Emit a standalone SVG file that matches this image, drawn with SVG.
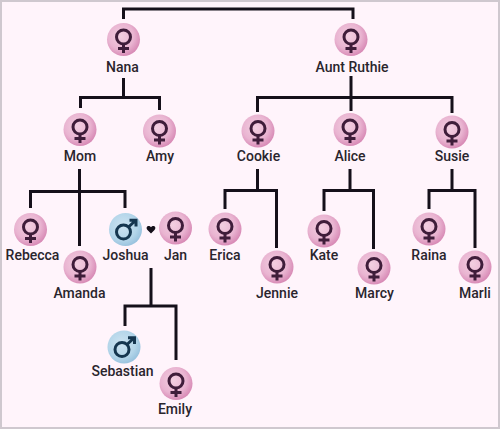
<svg xmlns="http://www.w3.org/2000/svg" width="500" height="429" viewBox="0 0 500 429">
<style>
text{font-family:Roboto,"Liberation Sans",sans-serif;font-size:14px;font-weight:500;fill:#2a252d;text-anchor:middle}
.c path{fill:none;stroke:#15101a;stroke-width:3}
.g{fill:none;stroke-width:3}
</style>
<defs>
<radialGradient id="pk" cx="0.42" cy="0.4" r="0.65"><stop offset="0" stop-color="#f3cfe1"/><stop offset="0.6" stop-color="#e9b4d1"/><stop offset="1" stop-color="#d583b1"/></radialGradient>
<radialGradient id="bl" cx="0.42" cy="0.4" r="0.65"><stop offset="0" stop-color="#cde3f1"/><stop offset="0.65" stop-color="#b3d5e9"/><stop offset="1" stop-color="#94bfdc"/></radialGradient>
<g id="f"><circle r="16.5" fill="url(#pk)"/><g stroke="#3f1d3a" class="g"><circle cy="-2.500" r="7"/><path d="M0 4.500V13.500M-5.500 9H5.500"/></g></g>
<g id="m"><circle r="16.500" fill="url(#bl)"/><g stroke="#15364f" class="g"><circle cx="-2" cy="2.500" r="7"/><path d="M3 -2.500L10 -9M4 -9.300H10.500V-3"/></g></g>
</defs>
<rect x="1" y="1" width="498" height="427" fill="#fff4fb" stroke="#cfc8cf" stroke-width="2"/>
<g class="c" id="connectors">
<path d="M123.500 19V9H353V19"/>
<path d="M123.500 78V97.500H80.500V108M123.500 97.500H159.500V110"/>
<path d="M351 76V97.500H257.500V112M351 97.500V111M351 97.500H452V113"/>
<path d="M79.500 169V191.500H30.500V208M79.500 191.500V246M79.500 191.500H125V208"/>
<path d="M257.500 169V190.500H225V209M257.500 190.500H276.500V248"/>
<path d="M350 169V190.500H324V211M350 190.500H373.500V249"/>
<path d="M452 169V190.500H429V209M452 190.500H475V248"/>
<path d="M151 268V306H125V326M151 306H176V360"/>
</g>
<g id="nana"><use href="#f" x="123.500" y="39.500"/><text x="122.500" y="71.500">Nana</text></g>
<g id="aunt-ruthie"><use href="#f" x="351" y="39.500"/><text x="352" y="71.500">Aunt Ruthie</text></g>
<g id="mom"><use href="#f" x="80" y="129.500"/><text x="80" y="161">Mom</text></g>
<g id="amy"><use href="#f" x="159.500" y="131"/><text x="160" y="161">Amy</text></g>
<g id="cookie"><use href="#f" x="258" y="131"/><text x="258.500" y="161">Cookie</text></g>
<g id="alice"><use href="#f" x="350" y="129.500"/><text x="350" y="161">Alice</text></g>
<g id="susie"><use href="#f" x="452" y="132"/><text x="452" y="161">Susie</text></g>
<g id="rebecca"><use href="#f" x="30.500" y="229.500"/><text x="32.500" y="260">Rebecca</text></g>
<g id="amanda"><use href="#f" x="80" y="267"/><text x="79.500" y="298">Amanda</text></g>
<g id="joshua"><use href="#m" x="125.500" y="229.500"/><text x="125.500" y="260">Joshua</text></g>
<g id="heart"><path d="M151 233.500L147.500 230C145.800 228 146.800 226 148.800 226C149.800 226 150.600 226.600 151 227.300C151.400 226.600 152.200 226 153.200 226C155.200 226 156.200 228 154.500 230Z" fill="#15101a"/></g>
<g id="jan"><use href="#f" x="175.500" y="228"/><text x="175.500" y="260">Jan</text></g>
<g id="erica"><use href="#f" x="225" y="229"/><text x="225" y="260">Erica</text></g>
<g id="jennie"><use href="#f" x="277" y="267"/><text x="277" y="298">Jennie</text></g>
<g id="kate"><use href="#f" x="324" y="231"/><text x="324" y="260">Kate</text></g>
<g id="marcy"><use href="#f" x="374" y="268"/><text x="374.500" y="298">Marcy</text></g>
<g id="raina"><use href="#f" x="429" y="229"/><text x="429" y="260">Raina</text></g>
<g id="marli"><use href="#f" x="475" y="267"/><text x="475" y="298">Marli</text></g>
<g id="sebastian"><use href="#m" x="124" y="347"/><text x="122.500" y="376">Sebastian</text></g>
<g id="emily"><use href="#f" x="176" y="383.500"/><text x="175" y="414">Emily</text></g>
</svg>
